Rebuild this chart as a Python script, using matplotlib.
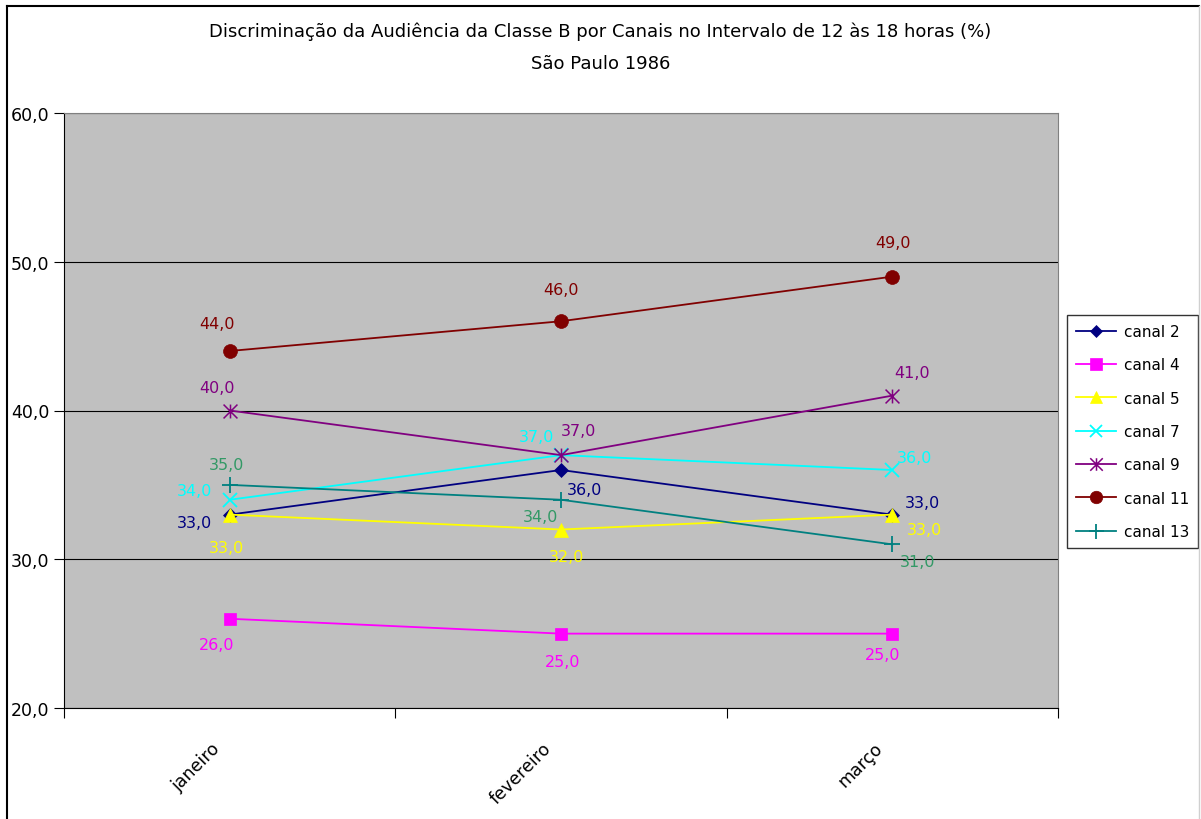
import matplotlib.pyplot as plt
import matplotlib.transforms as mtransforms
from matplotlib.lines import Line2D
from matplotlib.path import Path

meses = ['janeiro', 'fevereiro', 'março']
canais = ['canal 2', 'canal 4', 'canal 5', 'canal 7', 'canal 9', 'canal 11', 'canal 13']
canal2 = [33, 36, 33]
canal4 = [26, 25, 25]
canal5 = [33, 32, 33]
canal7 = [34, 37, 36]
canal9 = [40, 37, 41]
canal11 = [44, 46, 49]
canal13 = [35, 34, 31]
series = [canal2, canal4, canal5, canal7, canal9, canal11, canal13]

# Excel-style star: vertical bar plus an x
estrela = Path([(0, -1), (0, 1), (-1, -1), (1, 1), (-1, 1), (1, -1)],
               [Path.MOVETO, Path.LINETO, Path.MOVETO, Path.LINETO, Path.MOVETO, Path.LINETO])

cores = ['#000080', '#FF00FF', '#FFFF00', '#00FFFF', '#800080', '#800000', '#008080']
cores_rot = ['#000080', '#FF00FF', '#FFFF00', '#00FFFF', '#800080', '#800000', '#339966']
marcadores = ['D', 's', '^', 'x', estrela, 'o', '+']
tamanhos = [7, 9, 10, 10, 10, 10, 12]
larg_borda = [0.5, 0.5, 0.5, 1.3, 1.1, 0.5, 1.3]
# label offsets in pixels (dx, dy), one per point
desloc = [
    [(-35, -8), (24, -20), (30, 12)],
    [(-13, -26), (2, -28), (-10, -21)],
    [(-3, -33), (6, -27), (32, -15)],
    [(-35, 9), (-24, 19), (22, 12)],
    [(-13, 23), (17, 25), (20, 23)],
    [(-13, 27), (0, 32), (1, 34)],
    [(-3, 20), (-21, -17), (25, -17)],
]

fig = plt.figure(figsize=(12.01, 8.2), dpi=100)
ax = fig.add_axes([64 / 1201, 1 - 709 / 820, (1058 - 64) / 1201, (709 - 114) / 820])
ax.set_facecolor('#C0C0C0')

x = list(range(len(meses)))
for nome, vals, cor, cr, mk, ms, mew, off in zip(canais, series, cores, cores_rot, marcadores,
                                                 tamanhos, larg_borda, desloc):
    ax.plot(x, vals, color=cor, marker=mk, markersize=ms, linewidth=1.3,
            markeredgewidth=mew, label=nome, zorder=3)
    for xi, v, (dx, dy) in zip(x, vals, off):
        ax.annotate(f'{v:.1f}'.replace('.', ','), (xi, v), xytext=(dx, dy),
                    textcoords='offset pixels', ha='center', va='center',
                    color=cr, fontsize=11.5, zorder=4)

ax.set_xlim(-0.5, 2.5)
ax.set_ylim(20, 60)
ax.set_yticks([20, 30, 40, 50, 60])
ax.set_yticklabels(['20,0', '30,0', '40,0', '50,0', '60,0'], fontsize=12.5)
ax.yaxis.grid(True, color='black', linewidth=0.8)
ax.set_axisbelow(True)
ax.set_xticks([-0.5, 0.5, 1.5, 2.5])
ax.set_xticklabels([])
ax.set_xticks(x, minor=True)
ax.set_xticklabels(meses, minor=True, rotation=45, ha='right', rotation_mode='anchor', fontsize=12.5)
ax.tick_params(axis='x', which='minor', length=0, pad=22)
ax.tick_params(axis='x', which='major', length=7, direction='out')
ax.tick_params(axis='y', length=7, direction='out')
desl = mtransforms.ScaledTranslation(-0.19, 0, fig.dpi_scale_trans)
for lb in ax.get_xticklabels(minor=True):
    lb.set_transform(lb.get_transform() + desl)
for s in ['top', 'right']:
    ax.spines[s].set_color('#808080')
ax.spines['left'].set_color('black')
ax.spines['bottom'].set_color('black')

fig.text(0.5, 1 - 32 / 820, 'Discriminação da Audiência da Classe B por Canais no Intervalo de 12 às 18 horas (%)',
         ha='center', va='center', fontsize=13)
fig.text(0.5, 1 - 64 / 820, 'São Paulo 1986', ha='center', va='center', fontsize=13)

# outer chart frame
fig.add_artist(Line2D([7 / 1201, 7 / 1201], [0, 1 - 7 / 820], color='black', linewidth=1.5))
fig.add_artist(Line2D([7 / 1201, 1199 / 1201], [1 - 7 / 820, 1 - 7 / 820], color='black', linewidth=1.5))
fig.add_artist(Line2D([1199 / 1201, 1199 / 1201], [0, 1 - 7 / 820], color='#D0D0D0', linewidth=1))

leg = ax.legend(loc='upper left', bbox_to_anchor=(1067 / 1201, 1 - 316 / 820),
                bbox_transform=fig.transFigure, fontsize=11, frameon=True, fancybox=False,
                edgecolor='black', borderpad=0.6, labelspacing=1.2, handlelength=2.6,
                handletextpad=0.5, borderaxespad=0, markerscale=0.9)
leg.get_frame().set_linewidth(1.0)

fig.savefig('out.png', dpi=100)
